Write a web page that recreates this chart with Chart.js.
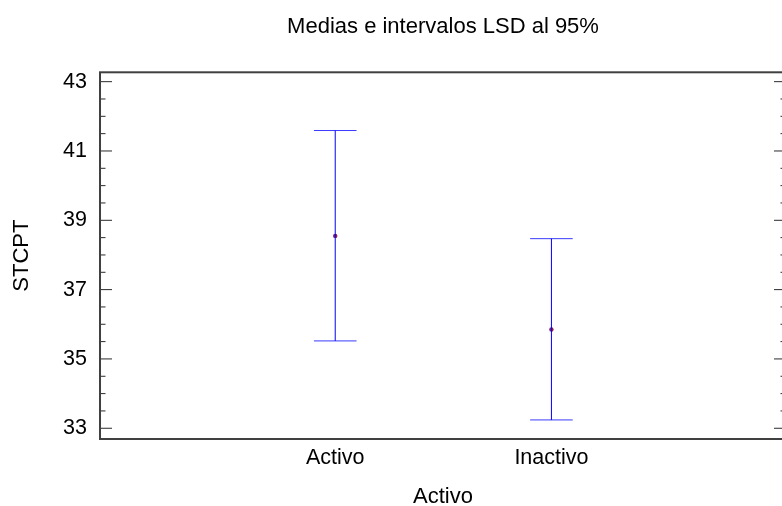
<!DOCTYPE html>
<html>
<head>
<meta charset="utf-8">
<script src="https://cdn.jsdelivr.net/npm/chart.js@4.4.1/dist/chart.umd.min.js"></script>
<style>
    html, body { margin: 0; padding: 0; background: #fff; overflow: hidden; }
    #wrap { width: 787px; height: 506px; }
</style>
</head>
<body>
<div id="wrap"><canvas id="lsdChart"></canvas></div>
<script>
// groups and the LSD intervals
const categories = ['Activo', 'Inactivo'];
const means = [38.55, 35.85];
const lower = [35.52, 33.24];
const upper = [41.59, 38.47];
const yTicks = [33, 35, 37, 39, 41, 43];

const FONT = "'Liberation Sans', Arial, sans-serif";

// frame + inward ticks on both sides (Statgraphics style)
const framePlugin = {
    id: 'frame',
    afterDraw(chart) {
        const { ctx, chartArea: a } = chart;
        const y = chart.scales.y;
        ctx.save();
        ctx.strokeStyle = '#2a2a2a';
        ctx.lineWidth = 1;
        ctx.beginPath();
        for (let i = 0; i < yTicks.length; i++) {
            const py = y.getPixelForValue(yTicks[i]);
            ctx.moveTo(a.left, py); ctx.lineTo(a.left + 12, py);
            ctx.moveTo(a.right, py); ctx.lineTo(a.right - 12, py);
            if (i < yTicks.length - 1) {
                const step = (yTicks[i + 1] - yTicks[i]) / 4;
                for (let k = 1; k < 4; k++) {
                    const my = y.getPixelForValue(yTicks[i] + step * k);
                    ctx.moveTo(a.left, my); ctx.lineTo(a.left + 5.5, my);
                    ctx.moveTo(a.right, my); ctx.lineTo(a.right - 5.5, my);
                }
            }
        }
        ctx.stroke();
        ctx.strokeStyle = '#404040';
        ctx.lineWidth = 2;
        ctx.strokeRect(a.left, a.top, a.right - a.left, a.bottom - a.top);
        ctx.restore();
    }
};

const intervalSets = categories.map((c, i) => ({
    label: c,
    data: [{ x: i + 1, y: lower[i] }, { x: i + 1, y: upper[i] }],
    showLine: true,
    borderColor: '#0000ff',
    borderWidth: 1,
    pointRadius: 0
}));

const capSet = {
    label: 'caps',
    data: categories.flatMap((c, i) => [{ x: i + 1, y: lower[i] }, { x: i + 1, y: upper[i] }]),
    pointStyle: 'line',
    pointRadius: 21.3,
    borderColor: '#3a3aff',
    borderWidth: 1
};

const meanSet = {
    label: 'means',
    data: categories.map((c, i) => ({ x: i + 1, y: means[i] })),
    pointStyle: 'circle',
    pointRadius: 2.2,
    backgroundColor: '#8b1f4f',
    borderColor: '#8b1f4f',
    borderWidth: 0
};

Chart.defaults.color = '#000';
Chart.defaults.font.family = FONT;

new Chart(document.getElementById('lsdChart'), {
    type: 'scatter',
    data: { datasets: [...intervalSets, capSet, meanSet] },
    options: {
        responsive: true,
        maintainAspectRatio: false,
        animation: false,
        layout: { autoPadding: false, padding: { left: 0, right: 1, top: 0, bottom: 0 } },
        plugins: {
            legend: { display: false },
            tooltip: { enabled: false },
            title: {
                display: true,
                text: 'Medias e intervalos LSD al 95%',
                fullSize: false,
                color: '#000',
                font: { size: 22, weight: 'normal', family: FONT },
                padding: { top: 13.6, bottom: 32.3 }
            }
        },
        scales: {
            x: {
                type: 'linear',
                min: -0.088,
                max: 3.085,
                afterBuildTicks: s => { s.ticks = categories.map((c, i) => ({ value: i + 1 })); },
                ticks: {
                    autoSkip: false,
                    maxRotation: 0,
                    padding: 6.4,
                    font: { size: 21.5, family: FONT },
                    callback: v => categories[v - 1] || ''
                },
                grid: { display: false, drawTicks: false },
                border: { display: false },
                title: {
                    display: true,
                    text: 'Activo',
                    font: { size: 22, family: FONT, lineHeight: 0.8 },
                    padding: { top: 10.3, bottom: 0.5 }
                }
            },
            y: {
                min: 32.69,
                max: 43.27,
                afterBuildTicks: s => { s.ticks = yTicks.map(v => ({ value: v })); },
                ticks: {
                    autoSkip: false,
                    padding: 13,
                    font: { size: 21.5, family: FONT },
                    callback: v => String(v)
                },
                grid: { display: false, drawTicks: false },
                border: { display: false },
                title: {
                    display: true,
                    text: 'STCPT',
                    font: { size: 22, family: FONT },
                    padding: { top: 8.3, bottom: 15.4 }
                }
            }
        }
    },
    plugins: [framePlugin]
});
</script>
</body>
</html>
